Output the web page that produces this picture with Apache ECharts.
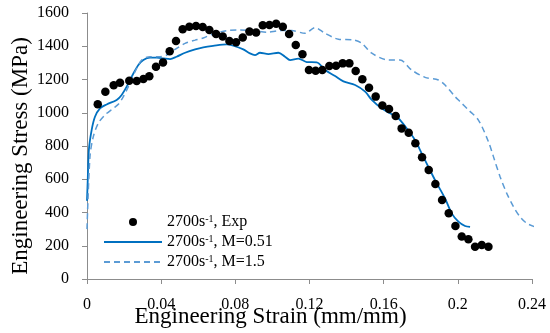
<!DOCTYPE html>
<html>
<head>
<meta charset="utf-8">
<script src="https://cdn.jsdelivr.net/npm/echarts@6/dist/echarts.min.js"></script>
<style>html,body{margin:0;padding:0;background:#fff}#c{width:550px;height:333px}</style>
</head>
<body>
<div id="c"></div>
<script>
// Experimental data (strain, stress)
const expStrain = [0.0058,0.0099,0.0144,0.0178,0.0228,0.0268,0.0304,0.0336,0.0372,0.0410,0.0446,0.0480,0.0516,0.0552,0.0588,0.0624,0.0660,0.0696,0.0732,0.0768,0.0804,0.0840,0.0876,0.0912,0.0948,0.0984,0.1020,0.1056,0.1090,0.1126,0.1162,0.1197,0.1233,0.1269,0.1307,0.1343,0.1379,0.1415,0.1449,0.1485,0.1521,0.1557,0.1593,0.1629,0.1665,0.1697,0.1735,0.1771,0.1807,0.1843,0.1879,0.1915,0.1951,0.1987,0.2021,0.2057,0.2093,0.2129,0.2165];
const expStress = [1051,1127,1165,1181,1193,1191,1203,1219,1277,1303,1370,1432,1502,1518,1522,1516,1498,1474,1458,1432,1424,1452,1488,1482,1526,1528,1536,1518,1474,1408,1352,1257,1253,1257,1281,1283,1297,1297,1251,1201,1151,1097,1043,1023,980,906,880,816,732,656,571,475,395,319,255,239,194,205,194];

// Simulation M=0.51
const m051Strain = [0,0.0004,0.001,0.0025,0.0043,0.0070,0.0106,0.0160,0.0187,0.0214,0.0241,0.0277,0.0304,0.0340,0.0376,0.0412,0.0448,0.0483,0.0529,0.0583,0.0627,0.0680,0.0753,0.0789,0.0843,0.0879,0.0906,0.0933,0.0978,0.1032,0.1068,0.1095,0.1140,0.1185,0.1239,0.1284,0.1338,0.1383,0.1446,0.1500,0.1536,0.1590,0.1634,0.1679,0.1724,0.1769,0.1805,0.1841,0.1877,0.1931,0.1967,0.2003,0.2039,0.2066];
const m051Stress = [470,595,776,896,976,1027,1050,1077,1107,1157,1217,1287,1317,1331,1331,1327,1323,1337,1361,1381,1393,1402,1411,1403,1381,1357,1347,1361,1353,1361,1337,1317,1326,1305,1303,1257,1221,1189,1167,1127,1077,1025,997,967,906,836,756,675,595,485,395,345,319,313];

// Simulation M=1.5
const m15Strain = [0,0.0016,0.0034,0.0061,0.0097,0.0142,0.0169,0.0196,0.0223,0.0259,0.0295,0.0340,0.0385,0.0430,0.0475,0.0529,0.0583,0.0627,0.0680,0.0753,0.0825,0.0897,0.0969,0.1041,0.1104,0.1176,0.1230,0.1284,0.1356,0.1436,0.1482,0.1536,0.1625,0.1688,0.1751,0.1823,0.1895,0.1931,0.1985,0.2012,0.2057,0.2111,0.2165,0.2192,0.2228,0.2264,0.2300,0.2335,0.2372,0.2413];
const m15Stress = [300,736,856,937,987,1027,1051,1097,1157,1247,1317,1337,1337,1347,1381,1417,1437,1450,1474,1494,1498,1494,1484,1494,1494,1478,1512,1478,1442,1438,1418,1358,1317,1317,1257,1213,1197,1167,1097,1067,1017,956,826,736,615,515,435,375,335,315];

const seriesNames = ['Exp', 'M=0.51', 'M=1.5'];
const xTicks = [0, 0.04, 0.08, 0.12, 0.16, 0.2, 0.24];
const yTicks = [0, 200, 400, 600, 800, 1000, 1200, 1400, 1600];

const zip = (a, b) => a.map((v, i) => [v, b[i]]);
const FONT = 'Liberation Serif';
const axisGray = '#8c8c8c';
const labelRich = {t: {fontFamily: FONT, fontSize: 16, color: '#000'}};

const chart = echarts.init(document.getElementById('c'), null, {renderer: 'canvas'});
chart.setOption({
  animation: false,
  backgroundColor: '#fff',
  textStyle: {fontFamily: FONT, color: '#000'},
  grid: {left: 87, right: 18, top: 13, bottom: 54, containLabel: false, outerBoundsMode: 'none'},
  xAxis: {
    type: 'value', min: xTicks[0], max: xTicks[xTicks.length - 1], interval: 0.04,
    name: 'Engineering Strain (mm/mm)', nameLocation: 'middle', nameGap: 26, nameMoveOverlap: false,
    nameTextStyle: {fontFamily: FONT, fontSize: 23, color: '#000', padding: [0, 78, 0, 0]},
    axisLine: {show: true, lineStyle: {color: axisGray, width: 1}},
    axisTick: {show: true, inside: false, length: 5, lineStyle: {color: axisGray}},
    axisLabel: {fontFamily: FONT, fontSize: 16, color: '#000', margin: 18, rich: labelRich,
      formatter: v => '{t|' + String(parseFloat(Number(v).toFixed(2))) + '}'},
    splitLine: {show: false}
  },
  yAxis: {
    type: 'value', min: yTicks[0], max: yTicks[yTicks.length - 1], interval: 200,
    name: 'Engineering Stress (MPa)', nameLocation: 'middle', nameGap: 55, nameMoveOverlap: false,
    nameTextStyle: {fontFamily: FONT, fontSize: 23, color: '#000', padding: [0, 20, 0, 0]},
    axisLine: {show: true, lineStyle: {color: axisGray, width: 1}},
    axisTick: {show: true, inside: false, length: 5, lineStyle: {color: axisGray}},
    axisLabel: {fontFamily: FONT, fontSize: 16, color: '#000', margin: 18, rich: labelRich,
      formatter: v => '{t|' + String(v) + '}'},
    splitLine: {show: false}
  },
  legend: {
    orient: 'vertical', left: 98, top: 209,
    itemWidth: 58, itemHeight: 8, itemGap: 4,
    data: [
      {name: seriesNames[0], itemStyle: {color: '#000', opacity: 1}},
      {name: seriesNames[1], itemStyle: {opacity: 0}},
      {name: seriesNames[2], itemStyle: {opacity: 0}}
    ],
    formatter: n => '2700s{sup|-1}, ' + n,
    textStyle: {fontFamily: FONT, fontSize: 16, color: '#000', lineHeight: 16,
      rich: {sup: {fontFamily: FONT, fontSize: 10, color: '#000', verticalAlign: 'top', lineHeight: 16}}}
  },
  series: [
    {name: seriesNames[0], type: 'scatter', data: zip(expStrain, expStress),
      symbol: 'circle', symbolSize: 8.5, itemStyle: {color: '#000', opacity: 1}, z: 3},
    {name: seriesNames[1], type: 'line', data: zip(m051Strain, m051Stress),
      showSymbol: false, symbol: 'none', smooth: 0.3,
      lineStyle: {color: '#0070C0', width: 1.8}, itemStyle: {color: '#0070C0'}, z: 2},
    {name: seriesNames[2], type: 'line', data: zip(m15Strain, m15Stress),
      showSymbol: false, symbol: 'none', smooth: 0.3,
      lineStyle: {color: '#5B9BD5', width: 1.5, type: [6, 4]}, itemStyle: {color: '#5B9BD5'}, z: 2}
  ]
});
</script>
</body>
</html>
